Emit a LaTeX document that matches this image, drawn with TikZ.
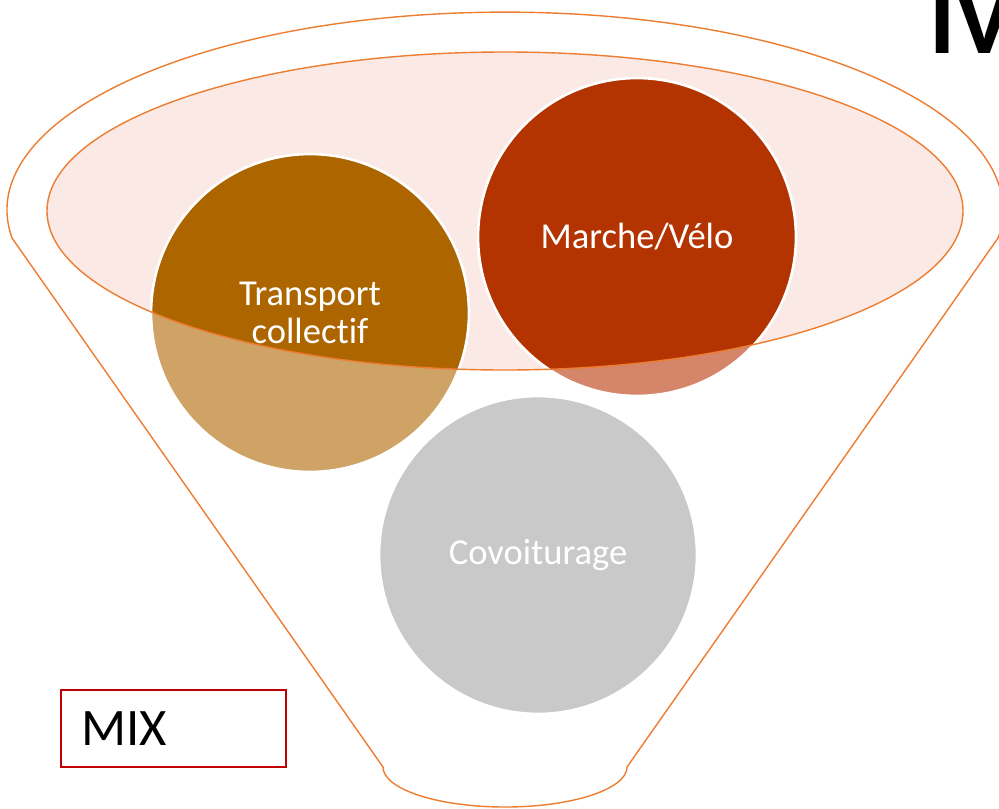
\documentclass[tikz,border=0pt]{standalone}
\usepackage{fontspec}
\setmainfont{Carlito}[Ligatures=CommonOff]

\definecolor{rimorange}{HTML}{ED7D31}
\definecolor{bowlpink}{HTML}{FBE9E5}
\definecolor{tcdark}{HTML}{AD6500}
\definecolor{tclight}{HTML}{CFA265}
\definecolor{mvdark}{HTML}{B33400}
\definecolor{mvlight}{HTML}{D4856A}
\definecolor{cvgrey}{HTML}{C9C9C9}
\definecolor{mixred}{HTML}{C00000}

\begin{document}
\begin{tikzpicture}[x=0.02cm, y=-0.02cm,
    inbowl/.style={path picture={
        \clip (ec) ellipse [x radius=458, y radius=159];
        \fill[#1] (path picture bounding box.south west) rectangle (path picture bounding box.north east);}}]

    \tikzstyle{rim}=[draw=rimorange, line width=0.8pt];
    \tikzstyle{bubble}=[circle, minimum size=6.36cm, draw=white, line width=1.5pt, text=white, font=\fontsize{20.8}{22}\selectfont, align=center];

    \useasboundingbox (0,0) rectangle (999,808);
    \clip (0,0) rectangle (999,808);

    \coordinate (ec) at (505,211);

    % funnel
    \draw[rim] (12,238) arc[start angle=171.9, end angle=368.1, x radius=498, y radius=198]
        -- (627,767) arc[start angle=0, end angle=180, x radius=122, y radius=40] -- cycle;

    \fill[bowlpink] (ec) ellipse [x radius=458, y radius=159];

    \node[bubble, fill=tclight, inbowl=tcdark] (tc) at (310,313) {Transport\\collectif};
    \node[bubble, fill=mvlight, inbowl=mvdark] (mv) at (637,237) {Marche/Vélo};
    \node[bubble, fill=cvgrey] (cv) at (538,555) {Covoiturage};

    \draw[rim] (ec) ellipse [x radius=458, y radius=159];

    \node[draw=mixred, line width=1.1pt, minimum width=4.5cm, minimum height=1.54cm, inner xsep=0.4cm, text width=3.7cm, align=left, font=\fontsize{30}{34}\selectfont] (mix) at (173.5,728.5) {MIX};

    \node[anchor=base west, font=\fontsize{56}{60}\selectfont\bfseries] (iv) at (923,53) {IV};
\end{tikzpicture}
\end{document}
